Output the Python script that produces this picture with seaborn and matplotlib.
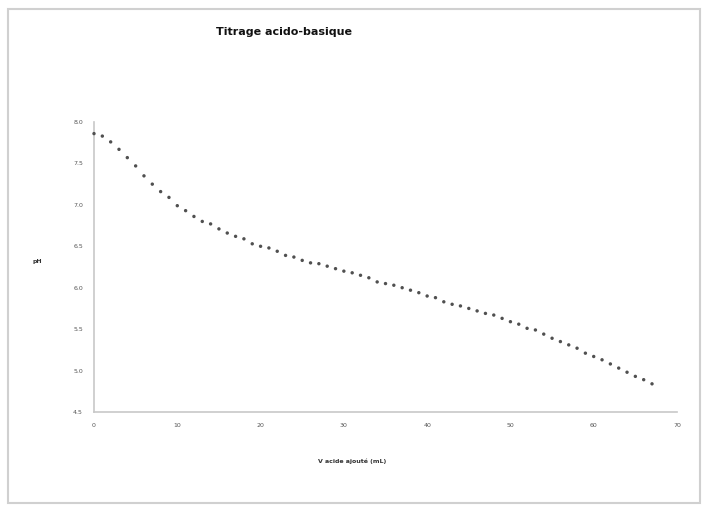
import numpy as np
import pandas as pd
import seaborn as sns
import matplotlib.pyplot as plt
from matplotlib.patches import Rectangle

# volume added (mL) and measured pH
volume = list(range(0, 68))
ph = [7.86, 7.83, 7.76, 7.67, 7.57, 7.47, 7.35, 7.25, 7.16, 7.09,
      6.99, 6.93, 6.86, 6.80, 6.77, 6.71, 6.66, 6.62, 6.59, 6.53,
      6.50, 6.48, 6.44, 6.39, 6.37, 6.33, 6.30, 6.29, 6.26, 6.23,
      6.20, 6.18, 6.15, 6.12, 6.07, 6.05, 6.03, 6.00, 5.97, 5.94,
      5.90, 5.88, 5.83, 5.80, 5.78, 5.75, 5.72, 5.69, 5.67, 5.63,
      5.59, 5.56, 5.51, 5.49, 5.44, 5.39, 5.35, 5.31, 5.27, 5.21,
      5.17, 5.13, 5.08, 5.03, 4.98, 4.93, 4.89, 4.84]
x_ticks = [0, 10, 20, 30, 40, 50, 60, 70]
y_ticks = [4.5, 5.0, 5.5, 6.0, 6.5, 7.0, 7.5, 8.0]

df = pd.DataFrame({'volume': volume, 'pH': ph})

sns.set_style('white')
fig = plt.figure(figsize=(7.02, 5.05), dpi=100)
ax = fig.add_axes([94/702, 1-412/505, (677-94)/702, (412-122)/505])

sns.scatterplot(data=df, x='volume', y='pH', ax=ax, marker='o', s=6,
                color='#505050', edgecolor='none', legend=False,
                clip_on=False, zorder=3)

ax.set_xlim(0, 70)
ax.set_ylim(4.5, 8.0)
ax.set_xticks(x_ticks)
ax.set_xticklabels([str(t) for t in x_ticks])
ax.set_yticks(y_ticks)
ax.set_yticklabels([f'{t:.1f}' for t in y_ticks])
ax.tick_params(length=0, labelsize=4.5, labelcolor='#555555', pad=8)
ax.set_xlabel('')
ax.set_ylabel('')
for side in ['top', 'right']:
    ax.spines[side].set_visible(False)
for side in ['left', 'bottom']:
    ax.spines[side].set_color('#c8c8c8')
    ax.spines[side].set_linewidth(1.2)

fig.text(284/702, 1-32/505, 'Titrage acido-basique', ha='center', va='center',
         fontsize=8, fontweight='bold', color='#111111')
fig.text(352/702, 1-461/505, 'V acide ajouté (mL)', ha='center', va='center',
         fontsize=4.5, fontweight='bold', color='#333333')
fig.text(37/702, 1-262/505, 'pH', ha='center', va='center',
         fontsize=4.5, fontweight='bold', color='#333333')

# chart frame
fig.patches.append(Rectangle((8/702, 1-503/505), 692/702, 494/505,
                             transform=fig.transFigure, fill=False,
                             edgecolor='#d0d0d0', linewidth=1.5))

fig.savefig('out.png', dpi=100)
